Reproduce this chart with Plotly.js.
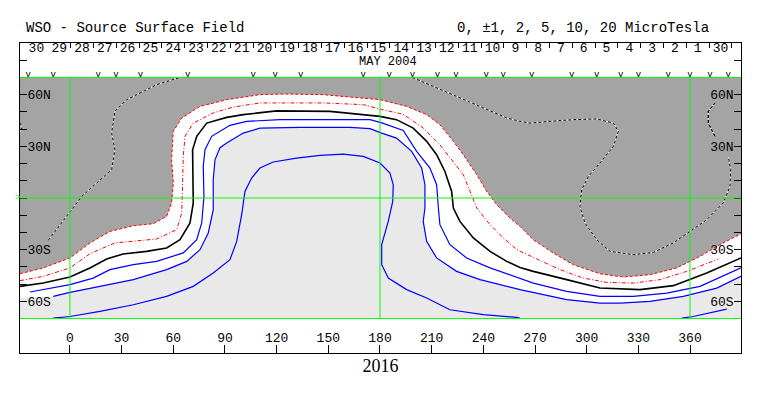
<!DOCTYPE html>
<html>
<head>
<meta charset="utf-8">
<script src="https://cdn.plot.ly/plotly-3.0.1.min.js"></script>
<style>html,body{margin:0;padding:0;background:#fff;}#chart{width:763px;height:396px;}</style>
</head>
<body>
<div id="chart"></div>
<script>
// ---- Data (Carrington longitude, latitude in degrees) ----
const redDotLon = [-29.0,-15.5,0,11.6,23.2,36.8,48.4,56.1,59.0,60.0,59.0,60.0,64.9,75.5,91.0,110.3,124.8,147.1,180.0,195.5,207.1,214.8,222.6,228.4,236.2,242.0,247.8,255.5,261.3,269.0,280.6,292.2,307.7,321.3,336.8,352.3,365.8,377.4,389.6];
const redDotLat = [-44.0,-40.6,-34.8,-26.1,-19.4,-16.1,-14.9,-10.7,-2.9,8.7,22.2,38.7,46.5,53.2,57.1,60.0,60.4,60.0,57.1,53.2,48.4,42.6,32.9,25.1,13.5,3.8,-3.9,-11.6,-16.5,-24.2,-31.9,-38.7,-44.0,-45.9,-44.5,-40.6,-33.9,-27.1,-20.7];

const redDashLon = [-29.0,-15.5,0,11.6,26.1,36.8,50.3,62.0,64.9,65.4,65.8,66.8,71.6,83.2,94.8,110.3,123.9,147.1,170.3,181.0,193.5,205.1,214.8,222.6,228.4,232.3,236.2,243.9,251.6,259.4,272.9,284.5,298.1,311.6,327.1,342.6,358.1,376.4];
const redDashLat = [-48.0,-45.5,-40.6,-32.3,-26.1,-25.0,-23.8,-18.4,-8.7,8.7,24.2,35.8,43.5,49.4,52.8,55.2,55.2,55.2,54.2,51.4,48.6,40.6,30.9,21.3,13.5,3.8,-5.8,-15.5,-23.2,-30.0,-36.2,-41.6,-46.5,-49.0,-49.4,-47.4,-42.6,-35.4];

const zeroLon = [-29.0,-15.5,0,11.6,21.3,30.9,44.5,56.1,63.9,69.7,71.6,71.2,71.2,73.6,79.4,91.0,100.6,120.0,151.0,180.0,189.6,199.3,207.1,212.9,217.7,221.6,222.6,226.4,234.2,243.9,253.6,261.3,269.0,288.4,307.7,331.0,350.3,369.7,389.6];
const zeroLat = [-51.3,-49.4,-45.9,-40.6,-35.4,-32.5,-31.0,-29.0,-24.2,-14.5,-2.9,16.4,28.0,35.8,43.5,46.8,48.4,50.6,50.3,47.4,45.5,40.6,32.9,25.1,15.4,3.8,-5.8,-13.6,-23.2,-31.0,-36.8,-40.3,-42.6,-47.4,-52.3,-53.2,-50.9,-43.5,-34.8];

const blue1Lon = [-23.2,0,13.5,23.2,36.8,50.3,65.8,73.6,76.5,77.8,77.4,78.4,82.3,92.9,102.6,121.9,174.2,181.0,193.5,201.3,209.0,212.9,213.9,214.8,220.6,230.3,243.9,261.3,269.0,288.4,307.7,327.1,346.5,365.8,389.6];
const blue1Lat = [-54.6,-50.3,-46.5,-41.6,-38.7,-36.8,-31.9,-24.2,-14.5,0.9,18.3,28.0,35.8,42.2,44.5,45.5,45.5,43.6,39.2,27.1,17.4,7.7,-5.8,-15.5,-27.1,-34.8,-40.6,-46.5,-49.4,-54.2,-57.1,-57.1,-55.2,-51.3,-40.6];

const blue2Lon = [-9.7,0,17.4,36.8,56.1,67.8,75.5,80.3,83.2,83.2,84.2,87.1,91.0,94.8,100.6,110.3,133.5,162.6,174.2,181.0,189.6,198.4,204.2,206.1,206.1,205.1,207.1,212.9,224.5,238.1,261.3,288.4,307.7,319.4,336.8,356.1,375.5,389.6];
const blue2Lat = [-57.1,-54.8,-51.3,-47.4,-41.6,-36.8,-30.0,-20.3,-6.8,10.6,22.2,29.2,32.0,34.4,37.7,40.6,41.0,41.0,40.3,37.7,34.8,27.1,17.4,7.7,-5.8,-13.6,-25.2,-34.8,-42.6,-47.4,-53.2,-59.0,-61.0,-61.0,-60.0,-57.1,-52.3,-45.5];
const blue2EdgeLat = -58.0;   // light-grey boundary where it meets the left edge

const blue3Lon = [-9.7,0,17.4,36.8,56.1,71.6,83.2,92.9,96.8,99.7,101.6,105.5,110.3,118.0,131.6,145.2,158.7,170.3,180.0,185.8,187.7,187.4,184.8,181.0,181.0,184.8,195.5,207.1,220.6,232.3,240.0,259.4,261.3];
const blue3Lat = [-69.7,-68.8,-65.8,-62.0,-57.1,-51.3,-43.5,-35.8,-25.2,-9.7,3.8,11.6,17.4,20.9,23.2,24.7,25.5,24.2,20.3,14.5,7.7,-2.0,-13.6,-27.1,-38.7,-46.5,-53.2,-58.1,-64.9,-66.8,-67.7,-69.3,-69.9];
const blue3bLon = [355.2,361.9,381.3];
const blue3bLat = [-69.7,-68.8,-64.5];

const negALon = [-12.6,-1.9,6.8,15.5,24.2,26.1,24.2,26.1,32.9,42.6,50.3,63.9];
const negALat = [-24.6,-10.7,0.9,8.7,16.4,28.0,37.7,50.3,57.1,61.9,65.8,70.0];
const negBLon = [198.8,212.9,228.4,240.0,253.6,261.3,267.1,278.7,292.2,305.8,315.5,318.4,315.5,307.7,301.0,297.1,296.1,299.0,305.8,313.6,327.1,338.7,350.3,360.0,369.7,379.3,383.2,383.6,382.2];
const negBLat = [70.0,63.9,57.1,52.3,46.5,44.5,43.5,44.5,45.5,45.9,43.5,38.7,30.0,20.3,12.5,4.8,-4.9,-14.5,-24.2,-31.0,-32.9,-31.6,-26.1,-19.4,-12.6,-2.9,6.7,16.4,24.2];
const negCLon = [374.5,370.6,370.6,374.5];
const negCLat = [35.8,43.5,50.3,55.2];
const negDLon = [-29.0,-27.9,-29.0];
const negDLat = [43.7,40.8,38.5];

// observation markers ("V") along the top
const obsLon = [-24.2,-9.7,16.4,26.7,41.0,68.3,106.4,119.2,134.0,170.3,185.4,198.8,213.3,224.1,241.6,251.6,268.1,291.3,305.8,319.7,330.0,347.4,360.0,371.6,382.2];

// calendar days (May 2004) along the top, right to left in time
const dayLabels = ['30','29','28','27','26','25','24','23','22','21','20','19','18','17','16','15','14','13','12','11','10','9','8','7','6','5','4','3','2','1','30'];
const dayStartLon = -26.1, dayStepLon = 13.24;

const xTickVals = [0,30,60,90,120,150,180,210,240,270,300,330,360];
const yTickVals = [-60,-30,30,60];
const yTickText = ['60S','30S','30N','60N'];
const greenLon = [0,180,360];
const greenLat = [-70,0,70];

const X_MIN = -29.0, X_MAX = 389.6, LAT_EDGE = 70;

// ---- Build ----
const FONT = 'Liberation Mono, DejaVu Sans Mono, monospace';
const dayTicks = dayLabels.map((d,i)=>dayStartLon + i*dayStepLon).concat([dayStartLon + dayLabels.length*dayStepLon]);
const dayMid = dayLabels.map((d,i)=>dayStartLon + (i+0.5)*dayStepLon);

const traces = [];
// white band (above the light-grey region)
traces.push({x:[X_MIN].concat(blue2Lon,[X_MAX,X_MAX,X_MIN]), y:[blue2EdgeLat].concat(blue2Lat,[blue2Lat[blue2Lat.length-1],LAT_EDGE,LAT_EDGE]),
  mode:'lines', fill:'toself', fillcolor:'#ffffff', line:{width:0}, hoverinfo:'skip', showlegend:false});
// dark grey region
traces.push({x:redDotLon.concat([X_MAX,X_MIN]), y:redDotLat.concat([LAT_EDGE,LAT_EDGE]),
  mode:'lines', fill:'toself', fillcolor:'#a4a4a4', line:{width:0}, hoverinfo:'skip', showlegend:false});

function line(x,y,color,width,dash,extra){
  const t = {x:x,y:y,mode:'lines',line:{color:color,width:width,dash:dash||'solid'},hoverinfo:'skip',showlegend:false};
  return Object.assign(t, extra||{});
}
traces.push(line(redDotLon, redDotLat, '#ff0000', 1, '3px,2px'));
traces.push(line(redDashLon, redDashLat, '#ff0000', 1, '4px,2px,1px,2px'));
traces.push(line(zeroLon, zeroLat, '#000000', 1.6));
traces.push(line(blue1Lon, blue1Lat, '#0000ff', 1.2));
traces.push(line(blue2Lon, blue2Lat, '#0000ff', 1.2));
traces.push(line(blue3Lon, blue3Lat, '#0000ff', 1.2));
traces.push(line(blue3bLon, blue3bLat, '#0000ff', 1.2));
[[negALon,negALat],[negBLon,negBLat],[negCLon,negCLat],[negDLon,negDLat]].forEach(p=>{
  traces.push(line(p[0],p[1],'#ffffff',1));
  traces.push(line(p[0],p[1],'#000000',1,'3px,2px'));
});
// day labels
traces.push({x:dayMid, y:dayMid.map(()=>86.8), mode:'text', text:dayLabels, textposition:'middle center',
  textfont:{family:FONT,size:13,color:'#000'}, hoverinfo:'skip', showlegend:false, cliponaxis:false});
// observation markers (on top axis x2 so that it is drawn)
traces.push({x:obsLon, y:obsLon.map(()=>71.6), xaxis:'x2', mode:'text', text:obsLon.map(()=>'v'), textposition:'middle center',
  textfont:{family:FONT,size:9,color:'#000'}, hoverinfo:'skip', showlegend:false, cliponaxis:false});
// right-hand dotted piece also on y2 (same range) so the right axis is drawn
traces.push(Object.assign(line(negCLon,negCLat,'#000000',1,'3px,2px'),{yaxis:'y2'}));

const shapes = [{type:'rect', xref:'x', yref:'y', x0:X_MIN, x1:X_MAX, y0:-LAT_EDGE, y1:LAT_EDGE, fillcolor:'#e9e9e9', line:{width:0}, layer:'below'}];
greenLon.forEach(v=>shapes.push({type:'line', xref:'x', yref:'y', x0:v, x1:v, y0:-LAT_EDGE, y1:LAT_EDGE, line:{color:'#00ff00', width:1}, layer:'above'}));
greenLat.forEach(v=>shapes.push({type:'line', xref:'x', yref:'y', x0:X_MIN, x1:X_MAX, y0:v, y1:v, line:{color:'#00ff00', width:1}, layer:'above'}));

const yCommon = {range:[-90,90], tickvals:yTickVals, ticktext:yTickText, ticks:'inside', ticklen:7, tickcolor:'#000',
  ticklabelposition:'inside', tickfont:{family:FONT,size:13,color:'#000'}, showgrid:false, zeroline:false,
  minor:{dtick:10, tick0:0, ticks:'inside', ticklen:7, tickcolor:'#000', showgrid:false}};

const layout = {
  width:763, height:396, margin:{l:20,r:22,t:43,b:43}, paper_bgcolor:'#fff', plot_bgcolor:'#fff',
  font:{family:FONT, color:'#000'},
  showlegend:false,
  xaxis:{range:[X_MIN,X_MAX], tickvals:xTickVals, ticktext:xTickVals.map(String), ticks:'inside', ticklen:8, tickcolor:'#000',
    ticklabelposition:'inside', tickfont:{family:FONT,size:13,color:'#000'}, showline:true, linecolor:'#000', linewidth:1, mirror:true,
    showgrid:false, zeroline:false, title:{text:'2016', font:{family:'Liberation Serif, DejaVu Serif, serif',size:18,color:'#000'}, standoff:14}},
  xaxis2:{overlaying:'x', side:'top', range:[X_MIN,X_MAX], tickvals:dayTicks, ticks:'inside', ticklen:5, tickcolor:'#000',
    showticklabels:false, showgrid:false, zeroline:false, showline:false},
  yaxis:Object.assign({showline:true, linecolor:'#000', linewidth:1, mirror:true, side:'left'}, yCommon),
  yaxis2:Object.assign({overlaying:'y', side:'right', showline:false}, yCommon),
  shapes:shapes,
  annotations:[
    {text:'WSO - Source Surface Field', xref:'paper', yref:'paper', x:0.0055, y:1.048, xanchor:'left', yanchor:'middle', showarrow:false, font:{family:FONT,size:14,color:'#000'}},
    {text:'0, ±1, 2, 5, 10, 20 MicroTesla', xref:'paper', yref:'paper', x:0.958, y:1.048, xanchor:'right', yanchor:'middle', showarrow:false, font:{family:FONT,size:14,color:'#000'}},
    {text:'MAY 2004', xref:'x', yref:'y', x:184.6, y:78.9, xanchor:'center', yanchor:'middle', showarrow:false, font:{family:FONT,size:12,color:'#000'}},
    {text:'>', xref:'paper', yref:'y', x:-0.004, y:0, xanchor:'center', yanchor:'middle', showarrow:false, font:{family:FONT,size:9,color:'#00ff00'}}
  ]
};

Plotly.newPlot('chart', traces, layout, {staticPlot:true, displayModeBar:false});
</script>
</body>
</html>
